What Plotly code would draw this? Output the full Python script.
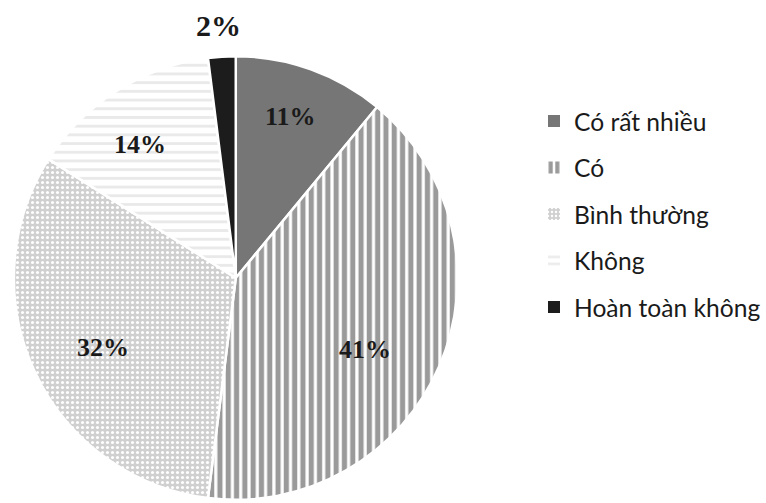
import math
import plotly.graph_objects as go

# Survey responses (percent)
labels = ["Có rất nhiều", "Có", "Bình thường", "Không", "Hoàn toàn không"]
values = [11, 41, 32, 14, 2]

# Slice styles
fill_colors = ["#767676", "#ffffff", "#d0d0d0", "#ffffff", "#1c1c1c"]
pattern_shapes = ["", "|", ".", "-", ""]
pattern_fg = ["#767676", "#9a9a9a", "#ffffff", "#e9e9e9", "#1c1c1c"]
pattern_bg = ["#ffffff", "#ffffff", "#d0d0d0", "#ffffff", "#ffffff"]
pattern_size = [8, 8.3, 5, 8.7, 8]
pattern_solidity = [0.3, 0.62, 0.3, 0.32, 0.3]

# Label placement: radius as a fraction of the pie radius, small angular nudge
label_r = [0.764, 0.665, 0.675, 0.739, 1.135]
label_nudge = [-0.8, 5.4, -2.5, -3.2, -0.4]
label_size = [26, 26, 26, 26, 30]

W, H = 766, 503
cx, cy, R = 237, 278, 223  # pie centre and radius in pixels

fig = go.Figure()

patterns = [
    dict(shape=s, fgcolor=fg, bgcolor=bg, size=sz, solidity=so, fillmode="replace")
    for s, fg, bg, sz, so in zip(pattern_shapes, pattern_fg, pattern_bg,
                                 pattern_size, pattern_solidity)
]

fig.add_trace(go.Pie(
    labels=labels,
    values=values,
    sort=False,
    direction="clockwise",
    rotation=0,
    textinfo="none",
    hoverinfo="label+percent",
    showlegend=False,
    marker=dict(
        colors=fill_colors,
        line=dict(color="#ffffff", width=2.5),
        pattern=dict(
            shape=pattern_shapes,
            fgcolor=pattern_fg,
            bgcolor=pattern_bg,
            size=pattern_size,
            solidity=pattern_solidity,
            fillmode="replace",
        ),
    ),
    domain=dict(x=[(cx - R) / W, (cx + R) / W],
                y=[(H - (cy + R)) / H, (H - (cy - R)) / H]),
))

# Legend entries (patterned swatches)
for name, col, pat in zip(labels, fill_colors, patterns):
    fig.add_trace(go.Bar(
        x=[None], y=[None], name=name, legendgroup=name,
        marker=dict(color=col, pattern=pat, line=dict(width=0)),
        showlegend=True, hoverinfo="skip",
    ))

# Percentage labels at each slice's bisector
total = sum(values)
cum = 0
for v, rf, nd, fs in zip(values, label_r, label_nudge, label_size):
    mid = (cum + v / 2) / total * 360 + nd
    cum += v
    px = cx + rf * R * math.sin(math.radians(mid))
    py = cy - rf * R * math.cos(math.radians(mid))
    fig.add_annotation(
        x=px / W, y=(H - py) / H, xref="paper", yref="paper",
        text=f"<b>{round(v / total * 100)}%</b>", showarrow=False,
        xanchor="center", yanchor="middle",
        font=dict(family="Liberation Serif", size=fs, color="#1a1a1a"),
    )

fig.update_layout(
    width=W, height=H,
    margin=dict(l=0, r=0, t=0, b=0),
    paper_bgcolor="#ffffff",
    plot_bgcolor="#ffffff",
    xaxis=dict(visible=False, domain=[0.99, 1.0]),
    yaxis=dict(visible=False, domain=[0.99, 1.0]),
    legend=dict(
        x=537 / W, xanchor="left",
        y=(H - 214) / H, yanchor="middle",
        traceorder="grouped",
        tracegroupgap=11.5,
        font=dict(family="Lato", size=24.6, color="#1a1a1a"),
        bgcolor="rgba(0,0,0,0)",
        itemclick=False, itemdoubleclick=False,
    ),
)

fig.write_html("out.html")
